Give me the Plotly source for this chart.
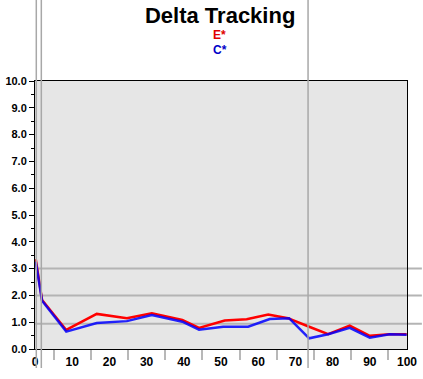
import plotly.graph_objects as go

# Data
x_vals = [0.2, 1.9, 8.4, 16.6, 24.7, 31.4, 39.6, 44.1, 51.0, 56.9, 62.7, 68.0, 73.7, 78.8, 84.6, 90.0, 95.3, 99.9]
e_star = [3.35, 1.83, 0.71, 1.31, 1.15, 1.33, 1.08, 0.79, 1.06, 1.11, 1.29, 1.15, 0.83, 0.55, 0.87, 0.49, 0.55, 0.55]
x_vals_c = [0.2, 1.9, 8.4, 16.6, 24.7, 31.4, 39.6, 44.1, 50.6, 57.3, 63.1, 68.3, 73.7, 78.8, 84.6, 90.0, 95.3, 99.9]
c_star = [3.26, 1.80, 0.65, 0.97, 1.04, 1.27, 1.02, 0.72, 0.83, 0.83, 1.12, 1.15, 0.40, 0.55, 0.79, 0.42, 0.55, 0.53]

h_lines = [3.0, 2.0, 0.94]
v_lines = [0.35, 1.7, 73.4]

title = "Delta Tracking"
legend_labels = ["E*", "C*"]
legend_colors = ["#e00000", "#0000c8"]

FONT = "Liberation Sans, Arial, sans-serif"

fig = go.Figure()
fig.add_trace(go.Scatter(x=x_vals, y=e_star, mode="lines", name="E*",
                         line=dict(color="#ff0000", width=2.5), showlegend=False))
fig.add_trace(go.Scatter(x=x_vals_c, y=c_star, mode="lines", name="C*",
                         line=dict(color="#0000ff", width=2.5), opacity=0.85, showlegend=False))

shapes = []
for h in h_lines:
    shapes.append(dict(type="line", xref="paper", yref="y", x0=0, x1=1.04, y0=h, y1=h,
                       line=dict(color="#b4b4b4", width=2), layer="below"))
for v in v_lines:
    shapes.append(dict(type="line", xref="x", yref="paper", x0=v, x1=v, y0=-0.071, y1=1.302,
                       line=dict(color="#a8a8a8", width=1.5), layer="above"))

annotations = []
for i, (lab, col) in enumerate(zip(legend_labels, legend_colors)):
    annotations.append(dict(text=lab, xref="paper", yref="paper",
                            x=(219.5 - 34.7) / 372.3, y=(349 - (35 + 15 * i)) / 268,
                            showarrow=False, xanchor="center", yanchor="middle",
                            font=dict(family=FONT, size=12, color=col, weight="bold")))

fig.update_layout(
    width=423, height=379,
    margin=dict(l=35, r=16, t=81, b=30),
    paper_bgcolor="white",
    plot_bgcolor="#e6e6e6",
    title=dict(text=title, x=(220 - 34.7) / 372.3, xref="paper", xanchor="center",
               y=1 - 15 / 379, yref="container", yanchor="middle",
               font=dict(family=FONT, size=22, color="black", weight="bold")),
    shapes=shapes,
    annotations=annotations,
    xaxis=dict(range=[0, 100], dtick=10, tick0=0, showgrid=False, zeroline=False,
               showline=True, linecolor="black", linewidth=1, mirror=True,
               ticks="", ticklabelstandoff=2, automargin=False,
               tickfont=dict(family=FONT, size=12, color="black", weight="bold"),
               minor=dict(ticks="outside", ticklen=10, tickcolor="#b8b8b8", tickwidth=2,
                          dtick=10, tick0=5, showgrid=False)),
    yaxis=dict(range=[0, 10], dtick=1, tick0=0, tickformat=".1f", showgrid=False, zeroline=False,
               showline=True, linecolor="black", linewidth=1, mirror=True,
               ticks="outside", ticklen=5, tickcolor="black", automargin=False,
               tickfont=dict(family=FONT, size=11, color="black", weight="bold"),
               minor=dict(ticks="outside", ticklen=3, tickcolor="black", dtick=0.5, showgrid=False)),
)

fig.write_html("out.html", config={"displayModeBar": False},
               post_script="document.body.style.margin='0px';document.body.style.padding='0px';")
